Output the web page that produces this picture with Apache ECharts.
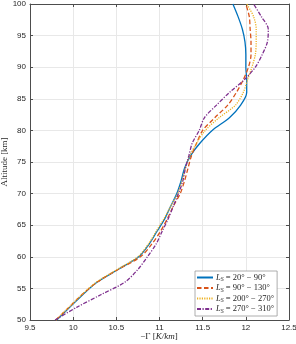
<!DOCTYPE html>
<html><head><meta charset="utf-8">
<script src="https://cdn.jsdelivr.net/npm/echarts@6/dist/echarts.min.js"></script>
<style>html,body{margin:0;padding:0;background:#fff}#c{width:296px;height:344px}</style>
</head><body><div id="c"></div>
<script>
const altitudes = [50,52,54,56,58,60,62,64,66,68,70,72,74,76,78,80,82,84,86,88,90,92,94,96,98,100];
const ls20_90   = [9.81,9.96,10.11,10.28,10.52,10.76,10.88,10.97,11.06,11.13,11.20,11.25,11.29,11.36,11.47,11.61,11.81,11.94,12.01,12.01,12.00,12.00,11.99,11.96,11.91,11.85];
const ls90_130  = [9.80,9.95,10.10,10.28,10.52,10.78,10.91,11.01,11.09,11.16,11.24,11.29,11.33,11.37,11.43,11.50,11.64,11.79,11.89,11.97,12.03,12.06,12.06,12.05,12.04,12.00];
const ls200_270 = [9.80,9.95,10.10,10.27,10.51,10.75,10.87,10.96,11.05,11.13,11.21,11.26,11.30,11.35,11.43,11.53,11.69,11.88,11.97,12.02,12.07,12.11,12.12,12.12,12.09,12.01];
const ls270_310 = [9.79,10.04,10.32,10.60,10.75,10.86,10.96,11.03,11.10,11.16,11.22,11.27,11.30,11.34,11.38,11.46,11.52,11.66,11.81,11.98,12.11,12.19,12.25,12.26,12.18,12.09];
const seriesNames = ['20° − 90°','90° − 130°','200° − 270°','270° − 310°'];
const seriesVals = [ls20_90, ls90_130, ls200_270, ls270_310];
const yTickLabels = [50,55,60,65,70,75,80,85,90,95,100];
const colors = ['#0072BD','#D95319','#EDB120','#7E2F8E'];
const dashes = ['solid',[4.5,2.5],[1.2,1.2],[4,1.5,1.2,1.5]];
const xTicks = {min:9.5,max:12.5,interval:0.5};
const yTicks = {min:50,max:100,interval:5};
const yTitle = 'Altitude [km]';
const xTitle = '{n|−Γ [}{i|K/km}{n|]}';

const chart = echarts.init(document.getElementById('c'), null, {renderer:'canvas'});
const axisCol = '#4d4d4d';
const lblStyle = {fontFamily:'Liberation Sans', fontSize:8, color:'#262626'};
const gridLine = {show:true, lineStyle:{color:'#e8e8e8', width:1}};
function xa(pos, showLbl){
  return {type:'value', position:pos, min:xTicks.min, max:xTicks.max, interval:xTicks.interval,
    axisLine:{show:true, onZero:false, lineStyle:{color:axisCol, width:1}},
    axisTick:{show:true, inside:true, length:3, lineStyle:{color:axisCol}},
    axisLabel:Object.assign({show:showLbl, margin:4, formatter:v=>String(v)}, lblStyle),
    splitLine: showLbl ? gridLine : {show:false}};
}
function ya(pos, showGrid){
  return {type:'value', position:pos, min:yTicks.min, max:yTicks.max, interval:yTicks.interval,
    axisLine:{show:true, onZero:false, lineStyle:{color:axisCol, width:1}},
    axisTick:{show:true, inside:true, length:3, lineStyle:{color:axisCol}},
    axisLabel:{show:false},
    splitLine: showGrid ? gridLine : {show:false}};
}

const series = seriesVals.map((vals,i)=>({
  name: seriesNames[i], type:'line', xAxisIndex:0, yAxisIndex:0,
  data: vals.map((v,j)=>[v, altitudes[j]]),
  showSymbol:false, symbol:'none', smooth:0.3,
  lineStyle:{color:colors[i], width:1.3, type:dashes[i]},
  itemStyle:{color:colors[i]}
}));

const titles = [
  {type:'text', id:'yt', x:5, y:162, rotation:Math.PI/2,
   style:{text:yTitle, fontFamily:'Liberation Serif', fontSize:9, fill:'#262626', align:'center', verticalAlign:'middle'}},
  {type:'text', id:'xt', x:159, y:337,
   style:{text:xTitle, align:'center', verticalAlign:'middle',
     rich:{n:{fontFamily:'Liberation Serif', fontSize:9, fill:'#262626'}, i:{fontFamily:'Liberation Serif', fontStyle:'italic', fontSize:9, fill:'#262626'}}}}
];

chart.setOption({
  animation:false,
  backgroundColor:'#fff',
  grid:{left:30, right:7, top:4, bottom:24, outerBounds:{left:-200, right:-200, top:-200, bottom:-200}},
  xAxis:[xa('bottom', true), xa('top', false)],
  yAxis:[ya('left', true), ya('right', false)],
  graphic: titles,
  legend:{
    orient:'vertical', left:195, top:271, width:86,
    backgroundColor:'#fff', borderColor:'#999', borderWidth:0.8, borderRadius:0,
    padding:[2,3,2,1], itemGap:1, itemWidth:16, itemHeight:9,
    itemStyle:{opacity:0},
    data: seriesNames,
    formatter: n => '{i|L}{s|S}{t| = ' + n + '}',
    textStyle:{padding:[0,0,0,-2], rich:{
      i:{fontFamily:'Liberation Serif', fontStyle:'italic', fontSize:8.5, color:'#262626'},
      s:{fontFamily:'Liberation Serif', fontStyle:'italic', fontSize:6, color:'#262626', padding:[4,0,0,0]},
      t:{fontFamily:'Liberation Serif', fontSize:8.5, color:'#262626'}
    }}
  },
  series: series
});

// y tick labels positioned through the library's own y scale
const axisX = chart.convertToPixel({xAxisIndex:0}, xTicks.min);
const yLabelEls = yTickLabels.map((v,k)=>({
  type:'text', id:'yl'+k, x: axisX - 4, y: chart.convertToPixel({yAxisIndex:0}, v),
  style:{text:String(v), fontFamily:'Liberation Sans', fontSize:8, fill:'#262626', align:'right', verticalAlign:'middle'}
}));
chart.setOption({graphic: titles.concat(yLabelEls)});
</script></body></html>
